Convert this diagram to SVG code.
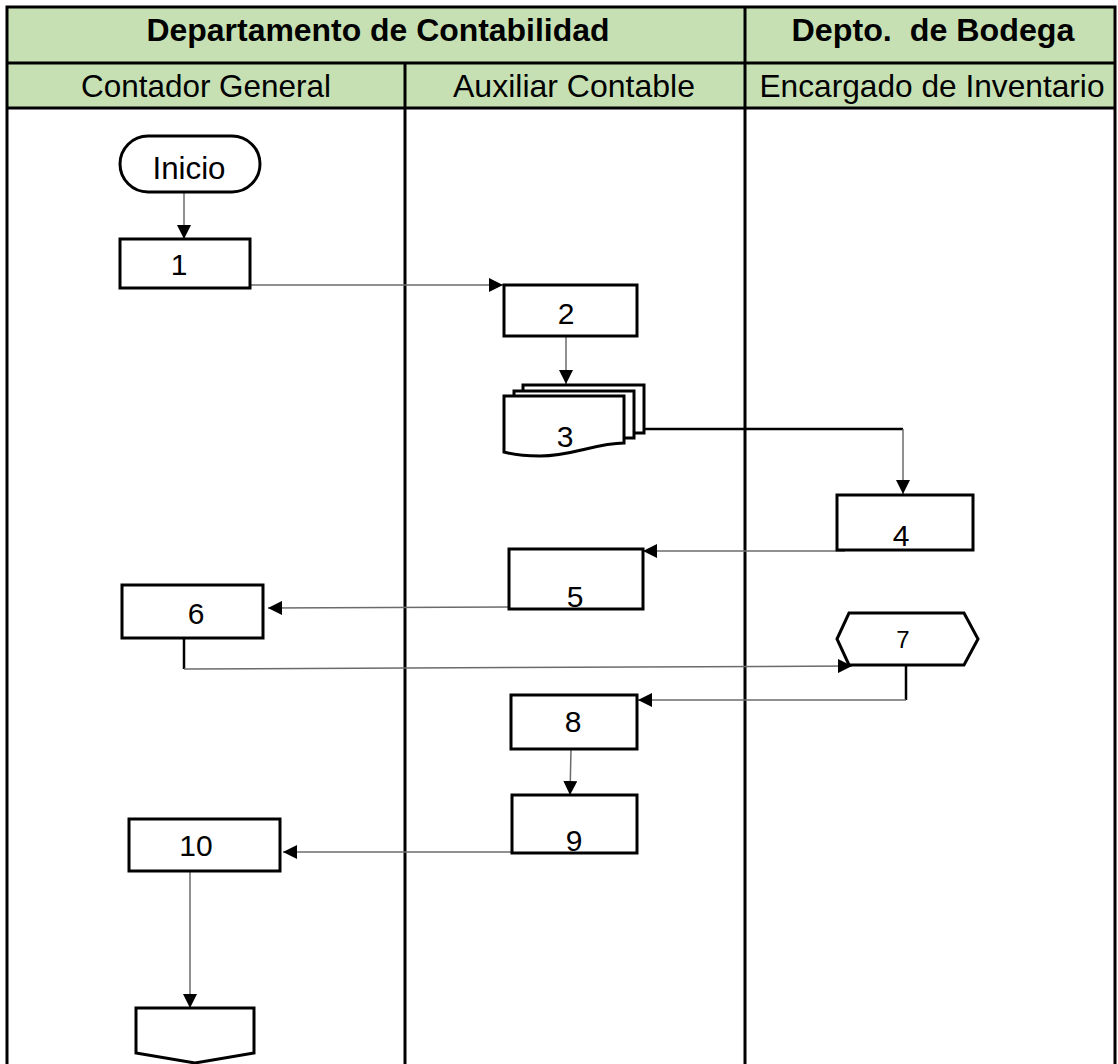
<svg xmlns="http://www.w3.org/2000/svg" width="1118" height="1064" viewBox="0 0 1118 1064">
  <defs>
    <style>
      .hdr { fill: #C6E0B4; }
      .grid { stroke: #000; stroke-width: 3; fill: none; }
      .box { fill: #fff; stroke: #000; stroke-width: 3; }
      .t-bold { font-family: "Liberation Sans", Arial, sans-serif; font-weight: bold; font-size: 31px; fill: #000; text-anchor: middle; }
      .t-reg { font-family: "Liberation Sans", Arial, sans-serif; font-size: 32px; fill: #000; text-anchor: middle; }
      .num { font-family: "Liberation Sans", Arial, sans-serif; font-size: 30px; fill: #000; text-anchor: middle; }
      .flow { stroke: #6b6b6b; stroke-width: 1.5; fill: none; }
      .stub { stroke: #000; stroke-width: 2.5; fill: none; }
    </style>
    <marker id="arrow" viewBox="0 0 14 14" refX="14" refY="7" markerWidth="14" markerHeight="14" markerUnits="userSpaceOnUse" orient="auto">
      <path d="M0,0 L14,7 L0,14 Z" fill="#000"/>
    </marker>
  </defs>

  <rect width="1118" height="1064" fill="#fff"/>

  <!-- swimlane table -->
  <g id="lanes">
    <rect class="hdr" x="7" y="7" width="1108" height="101"/>
    <rect class="grid" x="7" y="7" width="1108" height="1070"/>
    <line class="grid" x1="7" y1="63" x2="1115" y2="63"/>
    <line class="grid" x1="7" y1="108" x2="1115" y2="108"/>
    <line class="grid" x1="405" y1="63" x2="405" y2="1064"/>
    <line class="grid" x1="745" y1="7" x2="745" y2="1064"/>
    <text class="t-bold" x="378" y="41" textLength="463" lengthAdjust="spacingAndGlyphs">Departamento de Contabilidad</text>
    <text class="t-bold" x="933" y="41" textLength="283" lengthAdjust="spacingAndGlyphs" xml:space="preserve" style="white-space:pre">Depto.  de Bodega</text>
    <text class="t-reg" x="206" y="97" textLength="250" lengthAdjust="spacingAndGlyphs">Contador General</text>
    <text class="t-reg" x="574" y="97" textLength="242" lengthAdjust="spacingAndGlyphs">Auxiliar Contable</text>
    <text class="t-reg" x="932" y="97" textLength="345" lengthAdjust="spacingAndGlyphs">Encargado de Inventario</text>
  </g>

  <!-- connectors -->
  <g id="connectors">
    <path class="flow" d="M184,192 V239" marker-end="url(#arrow)"/>
    <path class="flow" d="M247,285 H503" marker-end="url(#arrow)"/>
    <path class="flow" d="M566,336 V384" marker-end="url(#arrow)"/>
    <path class="stub" d="M644,429 H903"/>
    <path class="flow" d="M903,429 V494" marker-end="url(#arrow)"/>
    <path class="flow" d="M845,551 H643" marker-end="url(#arrow)"/>
    <path class="flow" d="M509,607 L268,608" marker-end="url(#arrow)"/>
    <path class="stub" d="M184,638 V669"/>
    <path class="flow" d="M184,669 L852,666" marker-end="url(#arrow)"/>
    <path class="stub" d="M906,665 V700"/>
    <path class="flow" d="M906,700 H638" marker-end="url(#arrow)"/>
    <path class="flow" d="M571,749 L570,795" marker-end="url(#arrow)"/>
    <path class="flow" d="M512,852 H283" marker-end="url(#arrow)"/>
    <path class="flow" d="M190,871 V1008" marker-end="url(#arrow)"/>
  </g>

  <!-- nodes -->
  <g id="inicio">
    <rect class="box" x="120" y="136" width="140" height="56" rx="28" ry="28"/>
    <text class="t-reg" x="189" y="179" textLength="73" lengthAdjust="spacingAndGlyphs">Inicio</text>
  </g>
  <g id="n1">
    <rect class="box" x="120" y="239" width="130" height="49"/>
    <text class="num" x="179" y="275">1</text>
  </g>
  <g id="n2">
    <rect class="box" x="504" y="285" width="133" height="51"/>
    <text class="num" x="566" y="324">2</text>
  </g>
  <g id="n3">
    <rect class="box" x="523" y="385" width="121" height="48"/>
    <rect class="box" x="514" y="391" width="120" height="47"/>
    <path class="box" d="M504,396 H624 V443 C596,443 572,456 540,456 C522,456 511,454 504,452 Z"/>
    <text class="num" x="565" y="447">3</text>
  </g>
  <g id="n4">
    <rect class="box" x="837" y="495" width="136" height="55"/>
    <text class="num" x="901" y="546">4</text>
  </g>
  <g id="n5">
    <rect class="box" x="509" y="549" width="134" height="60"/>
    <text class="num" x="575" y="607">5</text>
  </g>
  <g id="n6">
    <rect class="box" x="122" y="585" width="141" height="53"/>
    <text class="num" x="196" y="624">6</text>
  </g>
  <g id="n7">
    <path class="box" d="M837,639 L849,613 H964 L978,639 L964,665 H849 Z"/>
    <text class="num" x="903" y="648" style="font-size:24px">7</text>
  </g>
  <g id="n8">
    <rect class="box" x="511" y="695" width="126" height="54"/>
    <text class="num" x="573" y="732">8</text>
  </g>
  <g id="n9">
    <rect class="box" x="512" y="795" width="125" height="58"/>
    <text class="num" x="574" y="851">9</text>
  </g>
  <g id="n10">
    <rect class="box" x="129" y="819" width="151" height="52"/>
    <text class="num" x="196" y="856">10</text>
  </g>
  <g id="end">
    <path class="box" d="M136,1008 H254 V1053 L195,1063 L136,1053 Z"/>
  </g>
</svg>
